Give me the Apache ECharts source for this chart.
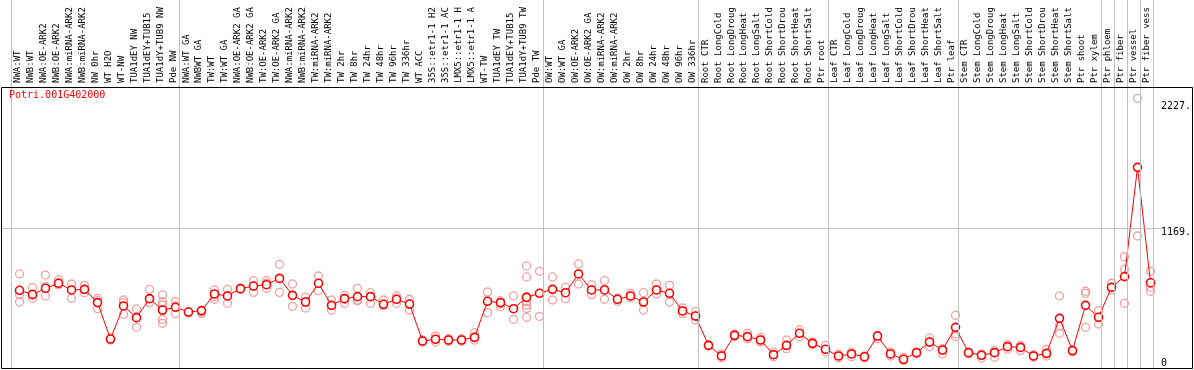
<!DOCTYPE html>
<html><head><meta charset="utf-8">
<script src="https://cdn.jsdelivr.net/npm/echarts@6/dist/echarts.min.js"></script>
<style>html,body{margin:0;padding:0;background:#fff}#c{width:1194px;height:370px}</style>
</head><body><div id="c"></div>
<script>
const geneId = 'Potri.001G402000';
const categories = [
 'NWA:WT','NWB:WT','NWA:OE-ARK2','NWB:OE-ARK2','NWA:miRNA-ARK2','NWB:miRNA-ARK2','NW 0hr','WT H2O','WT-NW','TUA1dEY NW','TUA1dEY+TUB15','TUA1dY+TUB9 NW','Pde NW',
 'NWA:WT GA','NWBWT GA','TW:WT','TW:WT GA','NWA:OE-ARK2 GA','NWB:OE-ARK2 GA','TW:OE-ARK2','TW:OE-ARK2 GA','NWA:miRNA-ARK2','NWB:miRNA-ARK2','TW:miRNA-ARK2','TW:miRNA-ARK2',
 'TW 2hr','TW 8hr','TW 24hr','TW 48hr','TW 96hr','TW 336hr','WT ACC','35S::etr1-1 H2','35S::etr1-1 AC','LMX5::etr1-1 H','LMX5::etr1-1 A','WT-TW','TUA1dEY TW','TUA1dEY+TUB15','TUA1dY+TUB9 TW','Pde TW',
 'OW:WT','OW:WT GA','OW:OE-ARK2','OW:OE-ARK2 GA','OW:miRNA-ARK2','OW:miRNA-ARK2','OW 2hr','OW 8hr','OW 24hr','OW 48hr','OW 96hr','OW 336hr',
 'Root CTR','Root LongCold','Root LongDroug','Root LongHeat','Root LongSalt','Root ShortCold','Root ShortDrou','Root ShortHeat','Root ShortSalt','Ptr root',
 'Leaf CTR','Leaf LongCold','Leaf LongDroug','Leaf LongHeat','Leaf LongSalt','Leaf ShortCold','Leaf ShortDrou','Leaf ShortHeat','Leaf ShortSalt','Ptr leaf',
 'Stem CTR','Stem LongCold','Stem LongDroug','Stem LongHeat','Stem LongSalt','Stem ShortCold','Stem ShortDrou','Stem ShortHeat','Stem ShortSalt','Ptr shoot','Ptr xylem',
 'Ptr phloem','Ptr fiber','Ptr vessel','Ptr fiber vess'
];
const meanValues = [
 649,615,666,708,652,657,546,241,518,420,579,484,507,
 467,479,618,602,663,685,696,749,607,551,708,523,
 579,596,596,532,574,534,224,239,233,233,255,557,546,495,590,624,
 657,629,786,652,652,574,602,551,652,624,476,434,
 188,99,272,261,233,110,188,289,205,155,
 99,116,93,266,116,71,127,216,149,339,
 127,105,127,177,171,99,121,414,144,523,423,
 674,764,1679,713
];
const replicates = [
 [786,615,551],[671,607,582],[777,680,602],[736,713,694],[702,652,582],[691,657,629],[582,562,495],[248,241,233],[568,546,448],[493,420,339],[657,579,546],[610,554,526,479,406,373],[554,518,454],
 [470,465,460],[479,467,456],[652,596,574],[657,602,540],[668,663,657],[730,685,632],[730,708,666],[867,749,632],[702,607,515],[590,551,501],[769,708,646],[568,523,484],
 [607,574,540],[666,568,562],[629,596,540],[568,534,523],[602,582,540],[574,534,484],[233,224,216],[266,239,216],[244,233,222],[244,233,222],[294,255,233],[635,557,462],[562,534,512],[602,495,406],[853,761,596,554,526,498,423],[808,624,431],
 [761,657,568],[674,629,579],[870,786,702],[696,652,613],[730,652,574],[585,574,557],[624,602,585],[629,551,484],[702,652,618],[691,624,551],[501,476,456],[473,434,400],
 [194,188,182],[116,99,82],[283,272,261],[289,261,244],[255,233,216],[133,110,93],[233,188,160],[317,289,261],[216,205,194],[188,155,132],
 [116,99,82],[132,116,93],[99,93,82],[272,266,244],[132,116,99],[88,71,60],[132,127,116],[250,216,177],[160,149,116],[440,283,261],
 [132,127,116],[116,105,82],[144,127,88],[194,177,155],[188,171,144],[110,99,88],[155,121,99],[602,351,289],[149,144,133],[641,624,339],[479,423,367],
 [708,674,652],[931,825,540],[2257,1676,1104],[808,674,641]
];
const groupBreaks = [0,13,41,53,63,73,84,85,86,87,88];
const yTickValues = [0,1169,2227];
const yTickLabels = ['0','1169.','2227.'];
const gridLineValues = [1169];
const yMax = 2352;

const repData = [];
replicates.forEach((r,i)=>r.forEach(v=>repData.push([i,v])));

const chart = echarts.init(document.getElementById('c'), null, {renderer:'canvas'});
const gridTop = 87, gridH = 280.8;
const mono = 'DejaVu Sans Mono';
chart.setOption({
  animation:false,
  backgroundColor:'#fff',
  title:{text:geneId,left:9,top:90,padding:0,textStyle:{color:'#ff0000',fontSize:10,fontFamily:mono,fontWeight:'normal'}},
  graphic:[{type:'rect',silent:true,z:50,shape:{x:1.5,y:87.5,width:1191,height:281},style:{fill:null,stroke:'#000',lineWidth:1}}],
  grid:[
    {left:11,width:1144,top:gridTop,height:gridH},
    {left:13,width:1144,top:gridTop,height:gridH}
  ],
  xAxis:[
    {gridIndex:0,type:'category',data:categories,position:'top',boundaryGap:true,
     axisLine:{show:false},axisTick:{show:false},splitLine:{show:false},
     axisLabel:{interval:0,rotate:90,fontFamily:mono,fontSize:9,color:'#000',margin:4,hideOverlap:false}},
    {gridIndex:0,type:'value',min:0,max:88,show:false},
    {gridIndex:1,type:'category',data:categories,boundaryGap:true,show:false}
  ],
  yAxis:[
    {gridIndex:0,type:'value',min:0,max:yMax,position:'right',
     axisLine:{show:false},axisTick:{show:false},splitLine:{show:false},
     axisLabel:{customValues:yTickValues,margin:8,showMinLabel:true,showMaxLabel:true,
       formatter:function(v){const k=yTickValues.indexOf(v);const t=k>=0?yTickLabels[k]:String(v);return v===0?'{z|'+t+'}':'{n|'+t+'}';},
       rich:{n:{fontFamily:mono,fontSize:10,color:'#000',padding:[9,0,0,0]},z:{fontFamily:mono,fontSize:10,color:'#000',padding:[0,0,9,0]}}}},
    {gridIndex:1,type:'value',min:0,max:yMax,show:false}
  ],
  series:[
    {type:'line',xAxisIndex:1,yAxisIndex:0,data:[],silent:true,z:1,
     markLine:{silent:true,symbol:['none','none'],label:{show:false},animation:false,
       lineStyle:{color:'#c0c0c0',width:1,type:'solid'},emphasis:{disabled:true},
       data:groupBreaks.map(b=>[{xAxis:b,y:0},{xAxis:b,y:369}]).concat(
            gridLineValues.map(g=>[{yAxis:g,x:2},{yAxis:g,x:1162}]))}},
    {type:'scatter',xAxisIndex:2,yAxisIndex:1,data:repData,symbol:'circle',symbolSize:8,z:3,silent:true,
     itemStyle:{color:'rgba(0,0,0,0)',borderColor:'#ee8a8a',borderWidth:1.3}},
    {type:'line',xAxisIndex:2,yAxisIndex:1,data:meanValues,symbol:'circle',symbolSize:8,z:4,silent:true,
     lineStyle:{color:'#ff0000',width:1},
     itemStyle:{color:'#ffffff',borderColor:'#ff0000',borderWidth:1.6}}
  ]
});
</script></body></html>
